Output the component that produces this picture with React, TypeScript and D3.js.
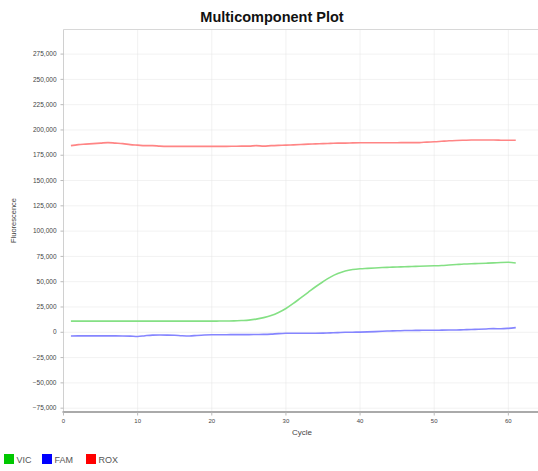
import React from 'react';
import * as d3 from 'd3';

const cycles = [
  1, 2, 3, 4, 5, 6, 7, 8, 9, 10, 11, 12, 13, 14, 15, 16, 17, 18, 19, 20,
  21, 22, 23, 24, 25, 26, 27, 28, 29, 30, 31, 32, 33, 34, 35, 36, 37, 38, 39, 40,
  41, 42, 43, 44, 45, 46, 47, 48, 49, 50, 51, 52, 53, 54, 55, 56, 57, 58, 59, 60, 61,
];

const vic = [
  11000, 11000, 11000, 11000, 11000, 11000, 11000, 11000, 11000, 11000,
  11000, 11000, 11000, 11000, 11000, 11000, 11000, 11000, 11000, 11000,
  11100, 11200, 11300, 11600, 12000, 13000, 14500, 16500, 19500, 23500,
  28500, 34000, 39500, 45000, 50000, 54500, 58000, 60500, 62000, 62800,
  63200, 63600, 64000, 64300, 64500, 64800, 65000, 65300, 65500, 65700,
  66000, 66500, 67000, 67500, 67800, 68000, 68300, 68600, 69000, 69200, 68500,
];

const fam = [
  -3600, -3500, -3500, -3500, -3500, -3500, -3500, -3600, -3800, -4200,
  -3400, -2800, -2700, -2800, -3000, -3400, -3600, -3100, -2700, -2500,
  -2400, -2400, -2300, -2300, -2300, -2200, -2100, -1800, -1300, -1000,
  -900, -900, -900, -900, -800, -600, -300, 0, 100, 200,
  400, 700, 1000, 1300, 1500, 1700, 1800, 1900, 2000, 2000,
  2100, 2200, 2300, 2500, 2800, 3000, 3300, 3600, 3500, 3900, 4600,
];

const rox = [
  184500, 185500, 186000, 186500, 187000, 187500, 187000, 186500, 185500, 185000,
  184500, 184500, 184000, 183800, 183800, 183800, 183800, 183800, 183800, 183800,
  183800, 183800, 183900, 184000, 184000, 184500, 184000, 184500, 184800, 185000,
  185300, 185600, 186000, 186200, 186500, 186700, 187000, 187000, 187200, 187300,
  187300, 187300, 187400, 187400, 187400, 187500, 187500, 187500, 188000, 188300,
  188800, 189300, 189600, 189800, 190000, 190000, 190000, 190000, 189900, 189800, 189800,
];

const yTicks = [-75000, -50000, -25000, 0, 25000, 50000, 75000, 100000, 125000, 150000, 175000, 200000, 225000, 250000, 275000];
const xTicks = [0, 10, 20, 30, 40, 50, 60];

const series = [
  { name: 'VIC', values: vic, line: '#84e084', swatch: '#00c800' },
  { name: 'FAM', values: fam, line: '#8585ff', swatch: '#0000ff' },
  { name: 'ROX', values: rox, line: '#ff8585', swatch: '#ff0000' },
];

const W = 538;
const H = 471;
const left = 63.5;
const right = 538;
const top = 29.5;
const bottom = 411.5;

export default function App() {
  const x = d3.scaleLinear().domain([0, 64]).range([left, right]);
  const y = d3.scaleLinear().domain([-78300, 299300]).range([bottom, top]);
  const fmt = d3.format(',');

  const line = d3
    .line<number>()
    .x((_, i) => x(cycles[i]))
    .y((d) => y(d))
    .curve(d3.curveMonotoneX);

  return (
    <svg
      width={W}
      height={H}
      style={{ position: 'absolute', left: 0, top: 0, fontFamily: 'Liberation Sans, Arial, sans-serif' }}
    >
      <rect width={W} height={H} fill="#fff" />
      <text x={272} y={22} textAnchor="middle" fontSize={14.5} fontWeight="bold" fill="#111">
        Multicomponent Plot
      </text>

      {/* grid */}
      {xTicks.filter((t) => t > 0).map((t) => (
        <line key={'gx' + t} x1={x(t)} x2={x(t)} y1={top} y2={bottom} stroke="#e4e4e4" strokeDasharray="1,1" />
      ))}
      {yTicks.map((t) => (
        <line key={'gy' + t} x1={left} x2={right} y1={y(t)} y2={y(t)} stroke="#e4e4e4" strokeDasharray="1,1" />
      ))}

      {/* frame */}
      <line x1={left} x2={right} y1={top} y2={top} stroke="#d8d8d8" />
      <line x1={left} x2={left} y1={top} y2={bottom} stroke="#d0d0d0" />
      <line x1={left - 1} x2={right} y1={bottom + 0.5} y2={bottom + 0.5} stroke="#aaa" strokeWidth={2} />

      {/* y axis */}
      {yTicks.map((t) => (
        <g key={'ty' + t}>
          <line x1={left - 3} x2={left} y1={y(t)} y2={y(t)} stroke="#bbb" />
          <text x={left - 7} y={y(t)} dy="0.33em" textAnchor="end" fontSize={6.5} fill="#444">
            {fmt(t)}
          </text>
        </g>
      ))}
      <text
        transform={`translate(16,${(top + bottom) / 2}) rotate(-90)`}
        textAnchor="middle"
        fontSize={7.5}
        fill="#444"
      >
        Fluorescence
      </text>

      {/* x axis */}
      {xTicks.map((t) => (
        <g key={'tx' + t}>
          <line x1={x(t)} x2={x(t)} y1={bottom + 1} y2={bottom + 4} stroke="#bbb" />
          <text x={x(t)} y={bottom + 11} textAnchor="middle" fontSize={6} fill="#444">
            {t}
          </text>
        </g>
      ))}
      <text x={302} y={435} textAnchor="middle" fontSize={8} fill="#444">
        Cycle
      </text>

      {/* lines */}
      {series.map((s) => (
        <path key={s.name} d={line(s.values) || ''} fill="none" stroke={s.line} strokeWidth={1.6} />
      ))}

      {/* legend */}
      {series.map((s, i) => {
        const lx = [4, 42, 86][i];
        return (
          <g key={'lg' + s.name}>
            <rect x={lx} y={454} width={10} height={10} fill={s.swatch} />
            <text x={lx + 12.5} y={463} fontSize={9} fill="#555">
              {s.name}
            </text>
          </g>
        );
      })}
    </svg>
  );
}
